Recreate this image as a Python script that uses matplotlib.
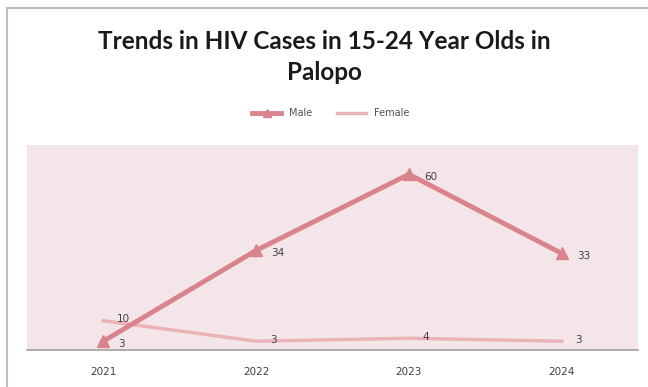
import matplotlib.pyplot as plt
from matplotlib.patches import Rectangle

years = ['2021', '2022', '2023', '2024']
male = [3, 34, 60, 33]
female = [10, 3, 4, 3]

male_color = '#d9848d'
female_color = '#ebb2b8'

fig = plt.figure(figsize=(6.48, 3.87), dpi=100)
fig.patch.set_facecolor('white')

# outer chart border
fig.patches.append(Rectangle((7 / 648, -0.05), 1.2, (387 - 8) / 387 + 0.05,
                             transform=fig.transFigure, fill=False,
                             edgecolor='#bdbdbd', linewidth=1.5))

ax = fig.add_axes([27 / 648, 37 / 387, 611 / 648, 205 / 387])
ax.set_facecolor('#f4e6e8')

x = list(range(len(years)))
ax.plot(x, male, color=male_color, linewidth=3.5, marker='^', markersize=9,
        label='Male', zorder=3)
ax.plot(x, female, color=female_color, linewidth=2.5, label='Female', zorder=2)

for xi, v in zip(x, male):
    ax.annotate(str(v), (xi, v), xytext=(11, -2), textcoords='offset points',
                fontsize=7.5, color='#404040', va='center')
for xi, v in zip(x, female):
    ax.annotate(str(v), (xi, v), xytext=(10, 1), textcoords='offset points',
                fontsize=7.5, color='#404040', va='center')

ax.set_xlim(-0.5, 3.5)
ax.set_ylim(0, 70)
ax.set_xticks(x)
ax.set_xticklabels(years, fontsize=7.5, color='#404040')
ax.set_yticks([])
ax.tick_params(axis='x', length=0, pad=12)
for s in ['top', 'right', 'left']:
    ax.spines[s].set_visible(False)
ax.spines['bottom'].set_color('#a0a0a0')
ax.spines['bottom'].set_linewidth(1.2)

fig.text(0.5, 1 - 57 / 387, 'Trends in HIV Cases in 15-24 Year Olds in\nPalopo',
         ha='center', va='center', fontsize=17.5, fontweight='bold',
         family='Lato', linespacing=1.42, color='#1a1a1a')

fig.legend(loc='center', bbox_to_anchor=(0.51, 0.707), ncol=2, frameon=False,
           fontsize=7, handlelength=3, columnspacing=2.5, labelcolor='#505050',
           markerscale=0.6)

fig.savefig('out.png', dpi=100)
